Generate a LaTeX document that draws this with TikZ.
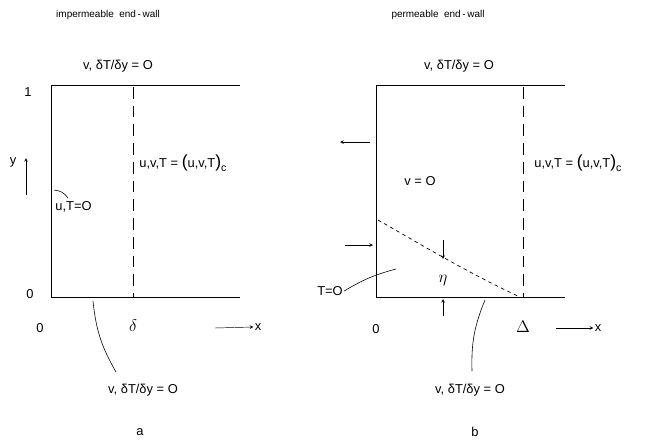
\documentclass[tikz,border=0pt]{standalone}
\usepackage{fontspec}
\setmainfont{Liberation Sans}
\newcommand{\core}{u,v,T = {\fontsize{15}{15}\selectfont(}u,v,T{\fontsize{15}{15}\selectfont)}\raisebox{-0.6ex}{\fontsize{9}{9}\selectfont c}}
\begin{document}
\begin{tikzpicture}[x=0.03cm, y=-0.03cm, >=stealth,
    lbl/.style={font=\fontsize{11}{13}\selectfont, inner sep=1pt},
    sym/.style={font=\fontsize{15}{15}\selectfont, inner sep=1pt},
    ttl/.style={font=\fontsize{8.5}{10}\selectfont, inner sep=1pt},
    wall/.style={line width=0.7pt},
    cut/.style={line width=0.7pt, dash pattern=on 10pt off 6pt},
    front/.style={line width=0.6pt, dash pattern=on 3pt off 3pt},
    lead/.style={line width=0.5pt}]
    \useasboundingbox (0,0) rectangle (651,442);

    % panel a
    \coordinate (aTL) at (51,85);
    \coordinate (aTR) at (240,85);
    \coordinate (aBL) at (51,297);
    \coordinate (aBR) at (240,297);
    \draw[wall] (aTR) -- (aTL) -- (aBL) -- (aBR);
    \coordinate (aDt) at (133,87);
    \coordinate (aDb) at (133,297);
    \draw[cut] (aDt) -- (aDb);

    \node[ttl] (atitle) at (108,15) {impermeable\ \ end\,-\,wall};
    \node[lbl] (atop) at (118,66) {v, δT/δy = O};
    \node[lbl] (aone) at (28,92) {1};
    \node[lbl] (azero) at (30,294) {0};
    \node[lbl] (ay) at (13,162) {y};
    \coordinate (ayb) at (26,195);
    \coordinate (ayt) at (26,158);
    \draw[->] (ayb) -- (ayt);
    \node[lbl, anchor=west] (auT) at (54,207) {u,T=O};
    \coordinate (auTw) at (54,190);
    \coordinate (auTe) at (68,198);
    \draw[lead] (auTw) to[bend left=25] (auTe);
    \node[lbl, anchor=west] (acore) at (138,163) {\core};
    \node[lbl] (ax0) at (40,328) {0};
    \node[sym] (adelta) at (133,326) {$\delta$};
    \node[lbl] (ax) at (258,327) {x};
    \coordinate (axs) at (215,328);
    \draw[->] (axs) -- (ax.west);
    \node[lbl] (abot) at (143,390) {v, δT/δy = O};
    \coordinate (aws) at (93,301);
    \coordinate (awe) at (116,372);
    \draw[lead] (aws) to[bend right=12] (awe);
    \node[lbl] (alet) at (140,432) {a};

    % panel b
    \coordinate (bTL) at (376,85);
    \coordinate (bTR) at (565,85);
    \coordinate (bBL) at (376,297);
    \coordinate (bBR) at (565,297);
    \draw[wall] (bTR) -- (bTL) -- (bBL) -- (bBR);
    \coordinate (bDt) at (523,87);
    \coordinate (bDb) at (523,297);
    \draw[cut] (bDt) -- (bDb);
    \coordinate (bf0) at (378,220);
    \coordinate (bf1) at (520,297);
    \draw[front] (bf0) .. controls (420,244) and (470,274) .. (bf1);

    \node[ttl] (btitle) at (438,15) {permeable\ \ end\,-\,wall};
    \node[lbl] (btop) at (459,66) {v, δT/δy = O};
    \coordinate (bouts) at (370,142);
    \coordinate (boute) at (340,142);
    \draw[->] (bouts) -- (boute);
    \coordinate (bins) at (345,245);
    \coordinate (bine) at (373,245);
    \draw[->] (bins) -- (bine);
    \node[lbl] (bv) at (420,181) {v = O};
    \node[lbl, anchor=west] (bcore) at (533,163) {\core};
    \node[sym] (beta) at (443,281) {$\eta$};
    \coordinate (betas) at (443,240);
    \coordinate (betae) at (443,259);
    \draw[->] (betas) -- (betae);
    \coordinate (betus) at (443,316);
    \coordinate (betue) at (443,299);
    \draw[->] (betus) -- (betue);
    \node[lbl] (bT) at (330,291) {T=O};
    \coordinate (bTe) at (396,269);
    \draw[lead] (bT.east) to[bend left=8] (bTe);
    \node[lbl] (bx0) at (376,329) {0};
    \node[sym] (bDelta) at (523,327) {$\Delta$};
    \node[lbl] (bx) at (598,328) {x};
    \coordinate (bxs) at (556,328);
    \draw[->] (bxs) -- (bx.west);
    \node[lbl] (bbot) at (470,390) {v, δT/δy = O};
    \coordinate (bws) at (485,300);
    \coordinate (bwe) at (472,371);
    \draw[lead] (bws) to[bend right=12] (bwe);
    \node[lbl] (blet) at (475,432) {b};
\end{tikzpicture}
\end{document}
